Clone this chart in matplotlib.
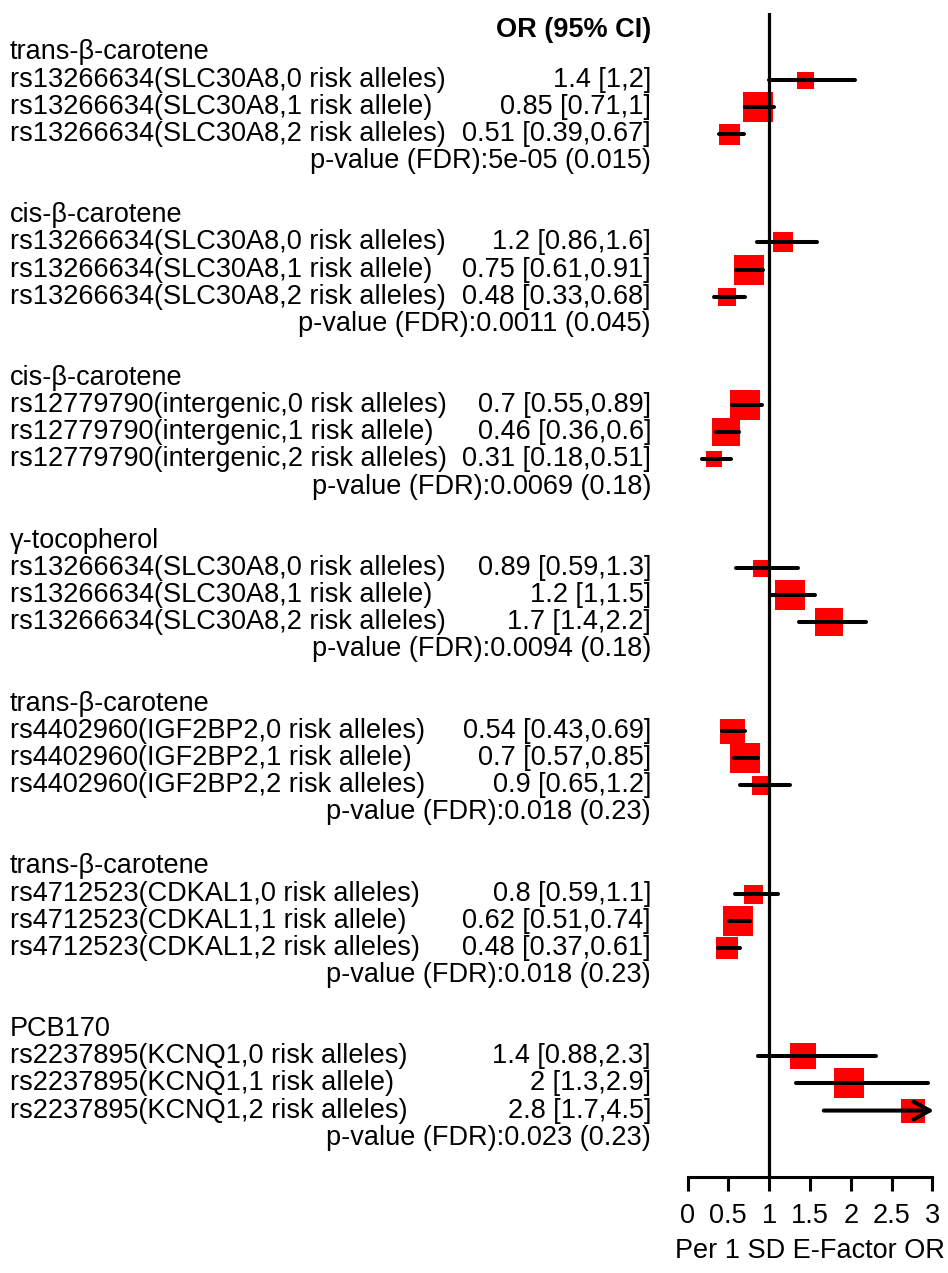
"""Forest plot of per-SD E-factor odds ratios by risk-allele count."""

import matplotlib

matplotlib.use("Agg")
matplotlib.rcParams.update(
    {
        "font.family": ["Liberation Sans", "DejaVu Sans"],
        "font.size": 19.5,
    }
)
import matplotlib.pyplot as plt
from matplotlib.transforms import blended_transform_factory

GROUPS = [
    "trans-\u03b2-carotene",
    "cis-\u03b2-carotene",
    "cis-\u03b2-carotene",
    "\u03b3-tocopherol",
    "trans-\u03b2-carotene",
    "trans-\u03b2-carotene",
    "PCB170",
]
ROW_LABELS = [
    "rs13266634(SLC30A8,0 risk alleles)",
    "rs13266634(SLC30A8,1 risk allele)",
    "rs13266634(SLC30A8,2 risk alleles)",
    "rs13266634(SLC30A8,0 risk alleles)",
    "rs13266634(SLC30A8,1 risk allele)",
    "rs13266634(SLC30A8,2 risk alleles)",
    "rs12779790(intergenic,0 risk alleles)",
    "rs12779790(intergenic,1 risk allele)",
    "rs12779790(intergenic,2 risk alleles)",
    "rs13266634(SLC30A8,0 risk alleles)",
    "rs13266634(SLC30A8,1 risk allele)",
    "rs13266634(SLC30A8,2 risk alleles)",
    "rs4402960(IGF2BP2,0 risk alleles)",
    "rs4402960(IGF2BP2,1 risk allele)",
    "rs4402960(IGF2BP2,2 risk alleles)",
    "rs4712523(CDKAL1,0 risk alleles)",
    "rs4712523(CDKAL1,1 risk allele)",
    "rs4712523(CDKAL1,2 risk alleles)",
    "rs2237895(KCNQ1,0 risk alleles)",
    "rs2237895(KCNQ1,1 risk allele)",
    "rs2237895(KCNQ1,2 risk alleles)",
]
OR_TEXT = [
    "1.4 [1,2]", "0.85 [0.71,1]", "0.51 [0.39,0.67]",
    "1.2 [0.86,1.6]", "0.75 [0.61,0.91]", "0.48 [0.33,0.68]",
    "0.7 [0.55,0.89]", "0.46 [0.36,0.6]", "0.31 [0.18,0.51]",
    "0.89 [0.59,1.3]", "1.2 [1,1.5]", "1.7 [1.4,2.2]",
    "0.54 [0.43,0.69]", "0.7 [0.57,0.85]", "0.9 [0.65,1.2]",
    "0.8 [0.59,1.1]", "0.62 [0.51,0.74]", "0.48 [0.37,0.61]",
    "1.4 [0.88,2.3]", "2 [1.3,2.9]", "2.8 [1.7,4.5]",
]
P_TEXT = [
    "p-value (FDR):5e-05 (0.015)",
    "p-value (FDR):0.0011 (0.045)",
    "p-value (FDR):0.0069 (0.18)",
    "p-value (FDR):0.0094 (0.18)",
    "p-value (FDR):0.018 (0.23)",
    "p-value (FDR):0.018 (0.23)",
    "p-value (FDR):0.023 (0.23)",
]
OR_EST = [
    1.44, 0.86, 0.51,
    1.17, 0.75, 0.49,
    0.70, 0.47, 0.32,
    0.90, 1.25, 1.74,
    0.55, 0.70, 0.90,
    0.80, 0.62, 0.49,
    1.42, 1.98, 2.76,
]
CI_LO = [
    1.00, 0.70, 0.38,
    0.85, 0.60, 0.33,
    0.54, 0.35, 0.18,
    0.59, 1.01, 1.37,
    0.42, 0.57, 0.64,
    0.58, 0.51, 0.37,
    0.87, 1.33, 1.67,
]
CI_HI = [
    2.05, 1.06, 0.69,
    1.59, 0.93, 0.70,
    0.91, 0.63, 0.53,
    1.36, 1.56, 2.19,
    0.71, 0.87, 1.25,
    1.11, 0.77, 0.64,
    2.31, 2.95, 4.5,
]
# box side length in pixels (study weight)
BOX_PX = [
    17, 30, 21,
    20, 30, 18,
    30, 28, 16,
    17, 30, 28,
    25, 30, 19,
    19, 30, 22,
    26, 30, 24,
]
X_TICKS = [0, 0.5, 1, 1.5, 2, 2.5, 3]
X_TICK_LABELS = ["0", "0.5", "1", "1.5", "2", "2.5", "3"]
CLIP_HI = 3.02

DPI = 100
W_PX, H_PX = 948, 1273
ROW_PX, ROW0_PX = 27.13, 52.5
AX_TOP_PX, AX_BOT_PX = 13, 1177
AX_LEFT_PX, AX_RIGHT_PX = 687.5, 932.3
TEXT_LEFT_PX, TEXT_RIGHT_PX = 10, 651


def row_of(px: float) -> float:
    return (px - ROW0_PX) / ROW_PX


def main() -> None:
    fig = plt.figure(figsize=(W_PX / DPI, H_PX / DPI), dpi=DPI)
    ax = fig.add_axes(
        [
            AX_LEFT_PX / W_PX,
            1 - AX_BOT_PX / H_PX,
            (AX_RIGHT_PX - AX_LEFT_PX) / W_PX,
            (AX_BOT_PX - AX_TOP_PX) / H_PX,
        ]
    )
    ax.set_xlim(0, 3)
    ax.set_ylim(row_of(AX_BOT_PX), row_of(AX_TOP_PX))
    for side in ("top", "right", "left"):
        ax.spines[side].set_visible(False)
    ax.spines["bottom"].set_linewidth(2.2)
    ax.set_yticks([])
    ax.set_xticks(X_TICKS, X_TICK_LABELS)
    ax.tick_params(axis="x", length=10, width=2.2, pad=9, labelsize=19.5)
    ax.set_xlabel("Per 1 SD E-Factor OR", fontsize=19.5, labelpad=6)

    ax.axvline(1, color="black", linewidth=2.3, zorder=3)

    trans = blended_transform_factory(fig.transFigure, ax.transData)
    x_left = TEXT_LEFT_PX / W_PX
    x_right = TEXT_RIGHT_PX / W_PX

    ax.text(x_right, row_of(30), "OR (95% CI)", transform=trans, ha="right",
            va="center", fontweight="bold", clip_on=False)

    for g, name in enumerate(GROUPS):
        base = g * 6
        ax.text(x_left, base, name, transform=trans, ha="left", va="center",
                clip_on=False)
        for k in range(3):
            i = g * 3 + k
            y = base + 1 + k
            ax.text(x_left, y, ROW_LABELS[i], transform=trans, ha="left",
                    va="center", clip_on=False)
            ax.text(x_right, y, OR_TEXT[i], transform=trans, ha="right",
                    va="center", clip_on=False)
            ax.plot(OR_EST[i], y, marker="s", markersize=BOX_PX[i] * 72 / DPI,
                    color="red", markeredgewidth=0, linestyle="none",
                    clip_on=False, zorder=2)
            hi = CI_HI[i]
            if hi > CLIP_HI:
                ax.annotate(
                    "", xy=(CLIP_HI, y), xytext=(CI_LO[i], y),
                    arrowprops=dict(arrowstyle="->,head_length=0.6,head_width=0.33",
                                    color="black", lw=2.9, shrinkA=0, shrinkB=0),
                    annotation_clip=False, zorder=4,
                )
            else:
                ax.plot([CI_LO[i], hi], [y, y], color="black", linewidth=2.9,
                        solid_capstyle="round", clip_on=False, zorder=4)
        ax.text(x_right, base + 4, P_TEXT[g], transform=trans, ha="right",
                va="center", clip_on=False)

    fig.savefig("out.png", dpi=DPI)
    plt.close(fig)


if __name__ == "__main__":
    main()
